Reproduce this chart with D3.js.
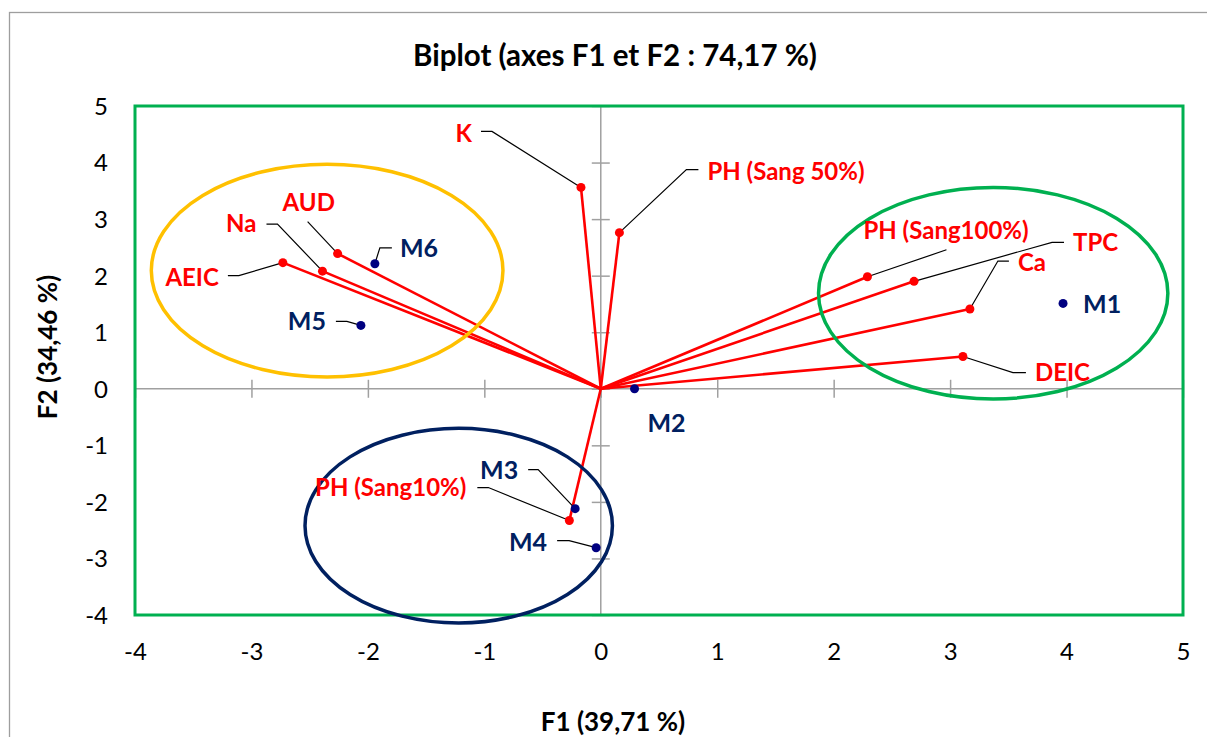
<!DOCTYPE html>
<html>
<head>
<meta charset="utf-8">
<script src="https://cdn.jsdelivr.net/npm/d3@7"></script>
<style>
  html, body { margin: 0; padding: 0; background: #ffffff; }
  svg { display: block; font-family: Lato, "Open Sans", sans-serif; }
</style>
</head>
<body>
<svg id="chart" width="1207" height="737"></svg>
<script>
// ---------------- DATA ----------------
const variableNames = ["K", "PH (Sang 50%)", "PH (Sang100%)", "TPC", "Ca", "DEIC", "AUD", "Na", "AEIC", "PH (Sang10%)"];
const variableF1 = [-0.17, 0.16, 2.29, 2.69, 3.17, 3.11, -2.26, -2.39, -2.73, -0.27];
const variableF2 = [3.56, 2.76, 1.98, 1.90, 1.41, 0.57, 2.39, 2.08, 2.23, -2.33];

const observationNames = ["M1", "M2", "M3", "M4", "M5", "M6"];
const observationF1 = [3.97, 0.29, -0.22, -0.04, -2.06, -1.94];
const observationF2 = [1.51, 0.00, -2.12, -2.81, 1.12, 2.21];

const tickValuesX = [-4, -3, -2, -1, 0, 1, 2, 3, 4, 5];
const tickValuesY = [-4, -3, -2, -1, 0, 1, 2, 3, 4, 5];

const groupNames = ["orange", "green", "navy"];
const groupCentreF1 = [-2.35, 3.37, -1.22];
const groupCentreF2 = [2.09, 1.69, -2.42];
const groupRadiusF1 = [1.51, 1.50, 1.32];
const groupRadiusF2 = [1.88, 1.87, 1.72];

const titleText = "Biplot (axes F1 et F2 : 74,17 %)";
const xTitleText = "F1 (39,71 %)";
const yTitleText = "F2 (34,46 %)";

// ---------------- LAYOUT (pixels, styles) ----------------
const plot = { left: 135, right: 1183, top: 106, bottom: 615 };
const groupColors = { orange: "#FFC000", green: "#00B050", navy: "#002060" };

// label placement: text offset from point, anchor, leader polyline offsets (start near text, elbow)
const variableLabelLayout = {
  "K":             { dx: -109, dy: -45, anchor: "end",   leader: [[-100, -56], [-89, -56]] },
  "PH (Sang 50%)": { dx: 88,   dy: -53, anchor: "start", leader: [[79, -63], [67, -63]] },
  "PH (Sang100%)": { dx: -4,   dy: -38, anchor: "start", leader: [[79, -27]] },
  "TPC":           { dx: 159,  dy: -30, anchor: "start", leader: [[150, -39], [138, -39]] },
  "Ca":            { dx: 48,   dy: -38, anchor: "start", leader: [[39, -48], [28, -48]] },
  "DEIC":          { dx: 72,   dy: 24,  anchor: "start", leader: [[63, 16], [50, 16]] },
  "AUD":           { dx: -55,  dy: -43, anchor: "start", leader: [[-30, -32]] },
  "Na":            { dx: -66,  dy: -39, anchor: "end",   leader: [[-56, -47], [-45, -47]] },
  "AEIC":          { dx: -64,  dy: 23,  anchor: "end",   leader: [[-55, 13], [-44, 13]] },
  "PH (Sang10%)":  { dx: -103, dy: -25, anchor: "end",   leader: [[-92, -33], [-81, -33]] }
};
const observationLabelLayout = {
  "M1": { dx: 20,  dy: 10,  anchor: "start", leader: null },
  "M2": { dx: 32,  dy: 43,  anchor: "middle", leader: null },
  "M3": { dx: -57, dy: -30, anchor: "end",   leader: [[-47, -39], [-37, -39]] },
  "M4": { dx: -49, dy: 3,   anchor: "end",   leader: [[-39, -7], [-27, -7]] },
  "M5": { dx: -35, dy: 5,   anchor: "end",   leader: [[-25, -4], [-14, -4]] },
  "M6": { dx: 25,  dy: -7,  anchor: "start", leader: [[17, -16], [5, -16]] }
};

// ---------------- DRAW ----------------
const svg = d3.select("#chart");

const x = d3.scaleLinear().domain([-4, 5]).range([plot.left, plot.right]);
const y = d3.scaleLinear().domain([-4, 5]).range([plot.bottom, plot.top]);
const plainFormat = d => String(d);

// outer chart border
svg.append("rect")
  .attr("x", 9.5).attr("y", 12.5).attr("width", 1230).attr("height", 760)
  .attr("fill", "#ffffff").attr("stroke", "#9e9e9e").attr("stroke-width", 1.3);

// title
svg.append("text")
  .attr("x", 615).attr("y", 66)
  .attr("text-anchor", "middle")
  .attr("font-size", 29.5).attr("font-weight", 700).attr("fill", "#000")
  .text(titleText);

// tick labels (at plot edges)
const yLabelAxis = d3.axisLeft(y).tickValues(tickValuesY).tickSize(0).tickPadding(27).tickFormat(plainFormat);
const gy = svg.append("g").attr("transform", `translate(${plot.left},0)`).call(yLabelAxis);
gy.select(".domain").remove();
gy.selectAll("text").attr("font-size", 24).attr("font-family", "Lato, sans-serif").attr("fill", "#000").attr("dy", "0.35em");

const xLabelAxis = d3.axisBottom(x).tickValues(tickValuesX).tickSize(0).tickPadding(28).tickFormat(plainFormat);
const gx = svg.append("g").attr("transform", `translate(0,${plot.bottom})`).call(xLabelAxis);
gx.select(".domain").remove();
gx.selectAll("text").attr("font-size", 24).attr("font-family", "Lato, sans-serif").attr("fill", "#000");

// zero axes with crossing ticks
const axisColor = "#a0a0a0";
const xZeroAxis = d3.axisBottom(x).tickValues(tickValuesX).tickSize(18).tickFormat("");
const gxz = svg.append("g").attr("transform", `translate(0,${y(0) - 9})`).call(xZeroAxis);
gxz.select(".domain").remove();
gxz.selectAll("line").attr("stroke", axisColor).attr("stroke-width", 1.5);
svg.append("line").attr("x1", plot.left).attr("x2", plot.right).attr("y1", y(0)).attr("y2", y(0))
  .attr("stroke", axisColor).attr("stroke-width", 1.5);

const yZeroAxis = d3.axisRight(y).tickValues(tickValuesY).tickSize(18).tickFormat("");
const gyz = svg.append("g").attr("transform", `translate(${x(0) - 9},0)`).call(yZeroAxis);
gyz.select(".domain").remove();
gyz.selectAll("line").attr("stroke", axisColor).attr("stroke-width", 1.5);
svg.append("line").attr("x1", x(0)).attr("x2", x(0)).attr("y1", plot.top).attr("y2", plot.bottom)
  .attr("stroke", axisColor).attr("stroke-width", 1.5);

// plot area border
svg.append("rect")
  .attr("x", plot.left).attr("y", plot.top)
  .attr("width", plot.right - plot.left).attr("height", plot.bottom - plot.top)
  .attr("fill", "none").attr("stroke", "#00B050").attr("stroke-width", 3);

// axis titles
svg.append("text")
  .attr("x", 613).attr("y", 731)
  .attr("text-anchor", "middle")
  .attr("font-size", 26).attr("font-weight", 700).attr("fill", "#000")
  .text(xTitleText);
svg.append("text")
  .attr("transform", "translate(57,347) rotate(-90)")
  .attr("text-anchor", "middle")
  .attr("font-size", 26).attr("font-weight", 700).attr("fill", "#000")
  .text(yTitleText);

// variable vectors
const variables = variableNames.map((n, i) => ({ name: n, f1: variableF1[i], f2: variableF2[i] }));
const observations = observationNames.map((n, i) => ({ name: n, f1: observationF1[i], f2: observationF2[i] }));

svg.append("g").selectAll("line").data(variables).join("line")
  .attr("x1", x(0)).attr("y1", y(0))
  .attr("x2", d => x(d.f1)).attr("y2", d => y(d.f2))
  .attr("stroke", "#FF0000").attr("stroke-width", 2.6);

// group ellipses
const groups = groupNames.map((n, i) => ({ name: n, cx: groupCentreF1[i], cy: groupCentreF2[i], rx: groupRadiusF1[i], ry: groupRadiusF2[i] }));
svg.append("g").selectAll("ellipse").data(groups).join("ellipse")
  .attr("cx", d => x(d.cx)).attr("cy", d => y(d.cy))
  .attr("rx", d => x(d.rx) - x(0)).attr("ry", d => y(0) - y(d.ry))
  .attr("fill", "none").attr("stroke", d => groupColors[d.name]).attr("stroke-width", 3.5);

// leader lines
function leaderPath(d, layout) {
  const l = layout[d.name];
  if (!l || !l.leader) return null;
  const px = x(d.f1), py = y(d.f2);
  const pts = l.leader.map(o => [px + o[0], py + o[1]]);
  pts.push([px, py]);
  return d3.line()(pts);
}
svg.append("g").selectAll("path").data(variables.concat(observations)).join("path")
  .attr("d", d => leaderPath(d, d.name in variableLabelLayout ? variableLabelLayout : observationLabelLayout))
  .attr("fill", "none").attr("stroke", "#000").attr("stroke-width", 1.2);

// points
svg.append("g").selectAll("circle").data(variables).join("circle")
  .attr("cx", d => x(d.f1)).attr("cy", d => y(d.f2)).attr("r", 4.5)
  .attr("fill", "#FF0000");
svg.append("g").selectAll("circle").data(observations).join("circle")
  .attr("cx", d => x(d.f1)).attr("cy", d => y(d.f2)).attr("r", 4.5)
  .attr("fill", "#000080");

// labels
svg.append("g").selectAll("text").data(variables).join("text")
  .attr("x", d => x(d.f1) + variableLabelLayout[d.name].dx)
  .attr("y", d => y(d.f2) + variableLabelLayout[d.name].dy)
  .attr("text-anchor", d => variableLabelLayout[d.name].anchor)
  .attr("font-size", 24).attr("font-weight", 700).attr("fill", "#FF0000")
  .text(d => d.name);
svg.append("g").selectAll("text").data(observations).join("text")
  .attr("x", d => x(d.f1) + observationLabelLayout[d.name].dx)
  .attr("y", d => y(d.f2) + observationLabelLayout[d.name].dy)
  .attr("text-anchor", d => observationLabelLayout[d.name].anchor)
  .attr("font-size", 25).attr("font-weight", 700).attr("fill", "#002060")
  .text(d => d.name);
</script>
</body>
</html>
